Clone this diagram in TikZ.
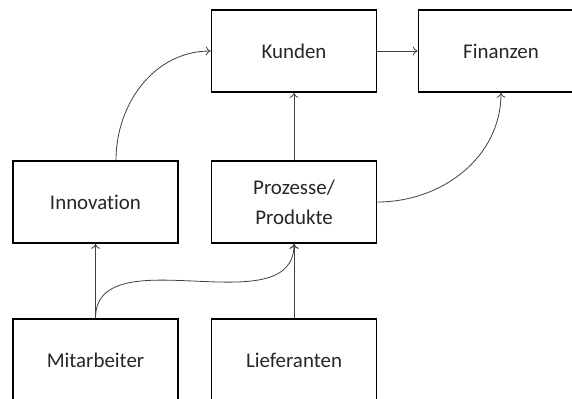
\documentclass[tikz,border=0pt]{standalone}
\usepackage{fontspec}
\setmainfont{Carlito}[Ligatures={NoCommon}]
\usetikzlibrary{arrows.meta,calc}
\begin{document}
\begin{tikzpicture}[x=1bp,y=-1bp,
  box/.style={draw=black,line width=1.6bp,minimum width=165bp,minimum height=82bp,
    inner sep=0pt,align=center,font=\fontsize{21}{30}\selectfont,text=black!85},
  conn/.style={draw=black!75,line width=0.8bp,-{To[length=5bp,width=9bp]}}]
\useasboundingbox (0,0) rectangle (572,398);
\node[box] (kunden) at (294,51) {Kunden};
\node[box] (finanzen) at (501,51) {Finanzen};
\node[box] (innov) at (95.5,202) {Innovation};
\node[box] (proz) at (294,202) {Prozesse/\\Produkte};
\node[box] (mitarb) at (95.5,360) {Mitarbeiter};
\node[box] (liefer) at (294,360) {Lieferanten};
\coordinate (innovtop) at ($(innov.north)+(20.5,0)$);
\draw[conn] (innovtop) to[out=90,in=180] (kunden.west);
\draw[conn] (kunden.east) -- (finanzen.west);
\draw[conn] (proz.north) -- (kunden.south);
\draw[conn] (proz.east) to[out=0,in=-90] (finanzen.south);
\draw[conn] (mitarb.north) -- (innov.south);
\draw[conn] (mitarb.north) to[out=90,in=-90] (proz.south);
\draw[conn] (liefer.north) -- (proz.south);
\end{tikzpicture}
\end{document}
